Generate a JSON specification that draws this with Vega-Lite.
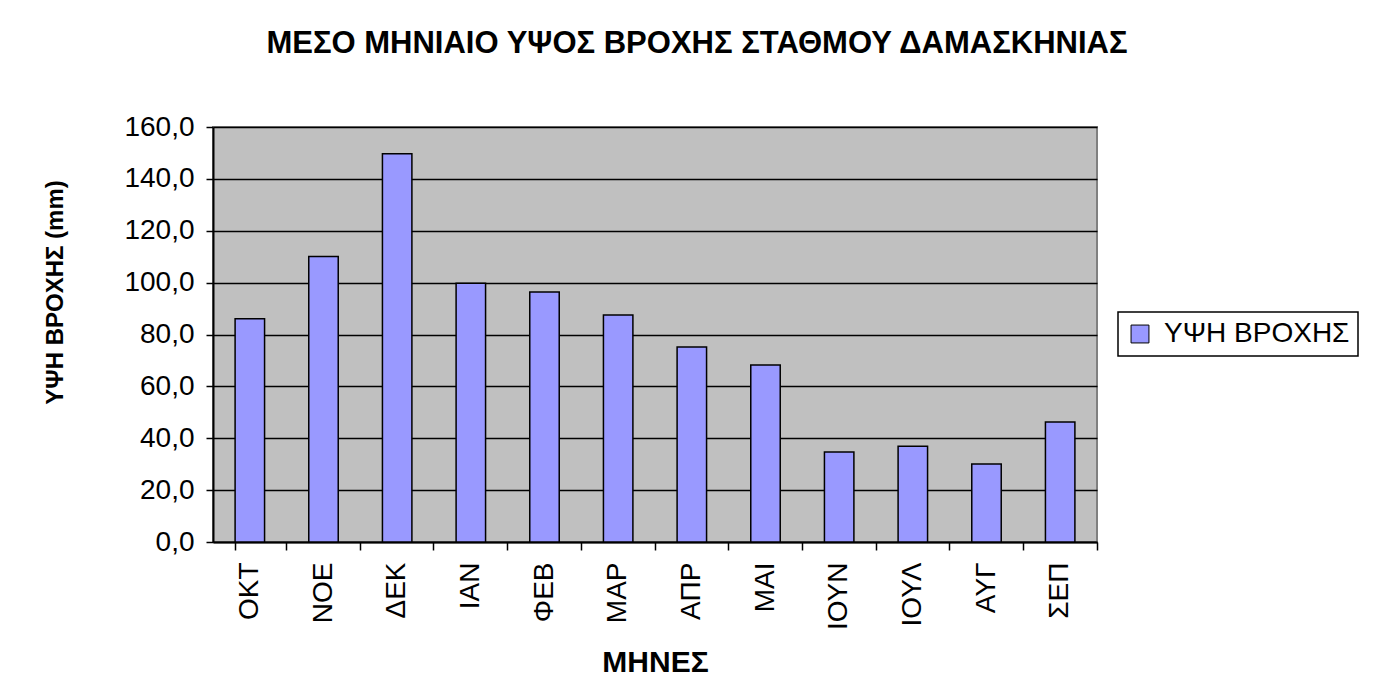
{
  "$schema": "https://vega.github.io/schema/vega-lite/v6.json",
  "autosize": "none",
  "width": 884,
  "height": 415,
  "padding": {"left": 213, "top": 127, "right": 298, "bottom": 158},
  "background": "white",
  "title": {
    "text": "ΜΕΣΟ ΜΗΝΙΑΙΟ ΥΨΟΣ ΒΡΟΧΗΣ ΣΤΑΘΜΟΥ ΔΑΜΑΣΚΗΝΙΑΣ",
    "font": "Liberation Sans",
    "fontSize": 31,
    "fontWeight": "bold",
    "color": "black",
    "anchor": "middle",
    "frame": "group",
    "dx": 42,
    "offset": 53
  },
  "data": {
    "values": [
      {"month": "ΟΚΤ", "rain": 86.1},
      {"month": "ΝΟΕ", "rain": 110.1},
      {"month": "ΔΕΚ", "rain": 149.7},
      {"month": "ΙΑΝ", "rain": 99.8},
      {"month": "ΦΕΒ", "rain": 96.4},
      {"month": "ΜΑΡ", "rain": 87.5},
      {"month": "ΑΠΡ", "rain": 75.2},
      {"month": "ΜΑΙ", "rain": 68.2},
      {"month": "ΙΟΥΝ", "rain": 34.7},
      {"month": "ΙΟΥΛ", "rain": 36.9},
      {"month": "ΑΥΓ", "rain": 30.1},
      {"month": "ΣΕΠ", "rain": 46.3}
    ]
  },
  "mark": {"type": "bar", "stroke": "black", "strokeWidth": 1.5, "opacity": 1},
  "encoding": {
    "x": {
      "field": "month",
      "type": "nominal",
      "sort": null,
      "scale": {"paddingInner": 0.6, "paddingOuter": 0.3},
      "axis": {
        "title": "ΜΗΝΕΣ",
        "titleFont": "Liberation Sans",
        "titleFontSize": 30,
        "titleFontWeight": "bold",
        "titleColor": "black",
        "titlePadding": 18,
        "labelAngle": -90,
        "labelFont": "Liberation Sans",
        "labelFontSize": 28,
        "labelColor": "black",
        "labelPadding": 12,
        "bandPosition": 1.75,
        "tickExtra": true,
        "tickSize": 8,
        "tickColor": "black",
        "tickWidth": 1.5,
        "domainColor": "black",
        "domainWidth": 2,
        "grid": false
      }
    },
    "y": {
      "field": "rain",
      "type": "quantitative",
      "scale": {"domain": [0, 160], "nice": false},
      "axis": {
        "title": "ΥΨΗ ΒΡΟΧΗΣ (mm)",
        "titleFont": "Liberation Sans",
        "titleFontSize": 24,
        "titleFontWeight": "bold",
        "titleColor": "black",
        "titleX": -158,
        "titleY": 165,
        "titleAngle": -90,
        "titleAlign": "center",
        "titleBaseline": "middle",
        "values": [0, 20, 40, 60, 80, 100, 120, 140, 160],
        "labelExpr": "replace(format(datum.value, '.1f'), '.', ',')",
        "labelFont": "Liberation Sans",
        "labelFontSize": 28,
        "labelColor": "black",
        "labelPadding": 12,
        "tickSize": 7,
        "tickColor": "black",
        "tickWidth": 1.5,
        "domainColor": "black",
        "domainWidth": 2,
        "grid": true,
        "gridColor": "black",
        "gridWidth": 1.5,
        "gridOpacity": 1
      }
    },
    "color": {
      "datum": "ΥΨΗ ΒΡΟΧΗΣ",
      "type": "nominal",
      "scale": {"range": ["#9999FF"]},
      "legend": {
        "title": null,
        "orient": "none",
        "legendX": 905,
        "legendY": 185,
        "strokeColor": "black",
        "fillColor": "white",
        "padding": 8,
        "labelFont": "Liberation Sans",
        "labelFontSize": 28,
        "labelLimit": 400,
        "labelOffset": 10,
        "labelColor": "black",
        "symbolType": "square",
        "symbolSize": 320,
        "symbolStrokeColor": "black",
        "symbolStrokeWidth": 1,
        "symbolOpacity": 1
      }
    }
  },
  "config": {
    "view": {"fill": "#C0C0C0", "stroke": "#808080", "strokeWidth": 2},
    "font": "Liberation Sans",
    "legend": {"strokeWidth": 1.5}
  }
}
